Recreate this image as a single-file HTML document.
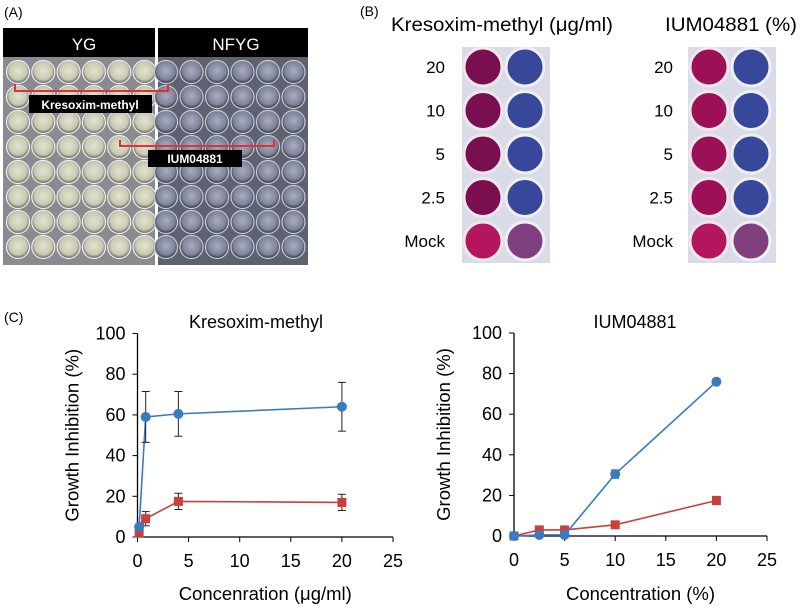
<!DOCTYPE html>
<html><head><meta charset="utf-8"><style>
body{margin:0;background:#fff;font-family:"Liberation Sans",Arial,sans-serif}
svg text{font-family:"Liberation Sans",Arial,sans-serif}
</style></head><body>
<svg id="fig" width="800" height="611" viewBox="0 0 800 611" xmlns="http://www.w3.org/2000/svg">
<defs>
<radialGradient id="wy" cx="50%" cy="45%" r="55%"><stop offset="0" stop-color="#e4e3cf"/><stop offset="0.7" stop-color="#c9c8b2"/><stop offset="1" stop-color="#555"/></radialGradient>
<radialGradient id="wn" cx="50%" cy="45%" r="55%"><stop offset="0" stop-color="#a9adc0"/><stop offset="0.7" stop-color="#7f8499"/><stop offset="1" stop-color="#2a2d3a"/></radialGradient>
</defs>
<text x="4" y="17" font-size="14">(A)</text>
<g id="plateA">
<rect x="3" y="28" width="152" height="237" fill="#8a8b90"/>
<rect x="158" y="28" width="150" height="237" fill="#5d6170"/>
<rect x="3" y="28" width="152" height="29" fill="#000"/>
<rect x="158" y="28" width="150" height="29" fill="#000"/>
<text x="84" y="50" font-size="17" fill="#fff" text-anchor="middle">YG</text>
<text x="236" y="50" font-size="17" fill="#fff" text-anchor="middle">NFYG</text>
</g>
<text x="360" y="16" font-size="14">(B)</text>
<text x="391" y="31" font-size="19.5" textLength="222" lengthAdjust="spacingAndGlyphs">Kresoxim-methyl (μg/ml)</text>
<text x="665" y="31" font-size="19.5" textLength="132" lengthAdjust="spacingAndGlyphs">IUM04881 (%)</text>
<g id="plateB"></g>
<text x="4" y="322" font-size="14">(C)</text>
<g id="charts"></g>
</svg>
<script>
// Chart data
const leftTitle = "Kresoxim-methyl";
const leftXLabel = "Concenration (μg/ml)";
const leftX = [0.16, 0.8, 4, 20];
const leftBlue = [5, 59, 60.5, 64];
const leftBlueErr = [1, 12.5, 11, 12];
const leftRed = [2, 9, 17.5, 17];
const leftRedErr = [2, 3.5, 4, 4];
const rightTitle = "IUM04881";
const rightXLabel = "Concentration (%)";
const rightX = [0, 2.5, 5, 10, 20];
const rightBlue = [0, 0.5, 0.5, 30.5, 76];
const rightBlueErr = [0, 0.5, 0.5, 2, 1.2];
const rightRed = [0, 3, 3, 5.5, 17.5];
const rightRedErr = [0, 1, 1, 1, 2];
const xTicks = [0, 5, 10, 15, 20, 25];
const yTicks = [0, 20, 40, 60, 80, 100];
const doseLabels = ["20", "10", "5", "2.5", "Mock"];

const NS = "http://www.w3.org/2000/svg";
function mk(tag, attrs, parent){const e=document.createElementNS(NS,tag);for(const k in attrs)e.setAttribute(k,attrs[k]);parent.appendChild(e);return e;}

// Panel A wells
const pA=document.getElementById('plateA');
for(let r=0;r<8;r++){for(let c=0;c<12;c++){
  const cx = c<6 ? 18+c*25.3 : 166+(c-6)*25.5;
  const cy = 72+r*25;
  const w=mk('circle',{cx:cx,cy:cy,r:11.5,fill:c<6?'url(#wy)':'url(#wn)',stroke:c<6?'#eee':'#c8cad8','stroke-width':1.2},pA);
  
  
}}
mk('polyline',{points:'15,84 15,91 168,91 168,84',fill:'none',stroke:'#e0303a','stroke-width':2},pA);
mk('polyline',{points:'120,140 120,146 274,146 274,140',fill:'none',stroke:'#e0303a','stroke-width':2},pA);
let lb=mk('rect',{x:29,y:95,width:123,height:18,fill:'#000'},pA);

let lt=mk('text',{x:90,y:109,'font-size':12,'font-weight':'bold',fill:'#fff','text-anchor':'middle'},pA);lt.textContent='Kresoxim-methyl';

let lb2=mk('rect',{x:148,y:150,width:94,height:17,fill:'#000'},pA);

let lt2=mk('text',{x:195,y:163,'font-size':12,'font-weight':'bold',fill:'#fff','text-anchor':'middle'},pA);lt2.textContent='IUM04881';


// Panel B
const pB=document.getElementById('plateB');
[[462,445],[688,673]].forEach(([px,lx],pi)=>{
  const bg=mk('rect',{x:px,y:47,width:88,height:216,fill:'#d9dbe6'},pB);
  
  doseLabels.forEach((d,i)=>{
    const cy=67+i*43.5;
    const t=mk('text',{x:lx,y:cy+6,'font-size':17,'text-anchor':'end'},pB);t.textContent=d;
    
    const c1=mk('circle',{cx:px+21,cy:cy,r:19,fill:i==4?'#b3165c':(pi?'#9c1056':'#7a0f50'),stroke:'#f2e6ee','stroke-width':3},pB);
    
    const c2=mk('circle',{cx:px+63,cy:cy,r:19,fill:i==4?'#80407f':'#37479a',stroke:'#eef0f6','stroke-width':3},pB);
    
  });
});

// Charts
const ch=document.getElementById('charts');
function chart(o){
  const g=mk('g',{},ch);
  
  const sx=v=>o.x0+(o.x1-o.x0)*v/25, sy=v=>o.y0-(o.y0-o.y1)*v/100;
  mk('line',{x1:o.x0,y1:o.y0,x2:o.x1,y2:o.y0,stroke:'#000','stroke-width':1.3},g);
  mk('line',{x1:o.x0,y1:o.y0,x2:o.x0,y2:o.y1,stroke:'#000','stroke-width':1.3},g);
  xTicks.forEach(t=>{mk('line',{x1:sx(t),y1:o.y0,x2:sx(t),y2:o.y0+5,stroke:'#000'},g);
    const e=mk('text',{x:sx(t),y:o.y0+30,'font-size':18,'text-anchor':'middle'},g);e.textContent=t;
    });
  yTicks.forEach(t=>{mk('line',{x1:o.x0-5,y1:sy(t),x2:o.x0,y2:sy(t),stroke:'#000'},g);
    const e=mk('text',{x:o.x0-12,y:sy(t)+6,'font-size':18,'text-anchor':'end'},g);e.textContent=t;
    });
  const tt=mk('text',{x:o.tx,y:328,'font-size':18,'text-anchor':'middle'},g);tt.textContent=o.title;
  
  const xl=mk('text',{x:(o.x0+o.x1)/2,y:600,'font-size':18.5,'text-anchor':'middle'},g);xl.textContent=o.xl;
  
  const yl=mk('text',{x:0,y:0,'font-size':18.5,'text-anchor':'middle',transform:`translate(${o.x0-o.yoff},${(o.y0+o.y1)/2}) rotate(-90)`},g);yl.textContent='Growth Inhibition (%)';
  
  [[o.red,o.redE,'#c8403c','sq'],[o.blue,o.blueE,'#3a7bbf','ci']].forEach(([ys,es,col,shape])=>{
    mk('polyline',{points:o.xs.map((x,i)=>sx(x)+','+sy(ys[i])).join(' '),fill:'none',stroke:col,'stroke-width':1.6},g);
    o.xs.forEach((x,i)=>{
      if(es[i]>0.6){const a=sy(ys[i]+es[i]),b=sy(ys[i]-es[i]);
        mk('line',{x1:sx(x),y1:a,x2:sx(x),y2:b,stroke:'#222'},g);
        mk('line',{x1:sx(x)-4,y1:a,x2:sx(x)+4,y2:a,stroke:'#222'},g);
        mk('line',{x1:sx(x)-4,y1:b,x2:sx(x)+4,y2:b,stroke:'#222'},g);}
      let m;
      if(shape=='ci')m=mk('circle',{cx:sx(x),cy:sy(ys[i]),r:5,fill:col},g);
      else m=mk('rect',{x:sx(x)-4.5,y:sy(ys[i])-4.5,width:9,height:9,fill:col},g);
      
      
    });
  });
}
chart({name:'kresoxim-chart',x0:137.5,x1:393,y0:537,y1:333.5,tx:256,yoff:59,title:leftTitle,xl:leftXLabel,xs:leftX,blue:leftBlue,blueE:leftBlueErr,red:leftRed,redE:leftRedErr});
chart({name:'ium-chart',x0:514,x1:767,y0:536,y1:333,tx:635,yoff:64,title:rightTitle,xl:rightXLabel,xs:rightX,blue:rightBlue,blueE:rightBlueErr,red:rightRed,redE:rightRedErr});
</script>
</body></html>
